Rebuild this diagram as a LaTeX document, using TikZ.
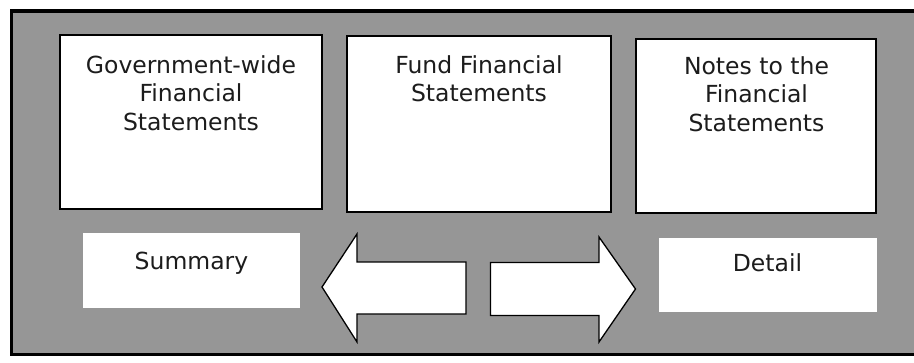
\documentclass[tikz,border=0pt]{standalone}
\usepackage{fontspec}
\setmainfont{DejaVu Sans}
\usetikzlibrary{calc}
\definecolor{panelgray}{RGB}{150,150,150}
\definecolor{inkgray}{RGB}{28,28,28}
\begin{document}
\begin{tikzpicture}[x=1pt,y=-1pt,
  statebox/.style={draw=black, line width=2pt, fill=white, inner sep=0pt},
  tagbox/.style={fill=white, inner sep=0pt},
  captxt/.style={font=\fontsize{23.5}{28.5}\selectfont, text=inkgray, align=center, inner sep=0pt},
  blockarrow/.style={draw=black, line width=1.3pt, fill=white, line join=miter}]

% canvas
\useasboundingbox (0,0) rectangle (914,362);
\fill[white] (0,0) rectangle (914,362);

% grey panel with heavy frame (right side runs off the page)
\begin{scope}
  \clip (0,0) rectangle (914,362);
  \draw[line width=3.5pt, fill=panelgray] (11.5,11) rectangle (922,354.5);
\end{scope}

% the three statement boxes
\node[statebox, minimum width=262pt, minimum height=174pt] (gov)   at (191,122) {};
\node[statebox, minimum width=264pt, minimum height=176pt] (fund)  at (479,124) {};
\node[statebox, minimum width=240pt, minimum height=174pt] (notes) at (756,126) {};

\node[captxt, anchor=north] (govtxt)   at (191,55)   {Government-wide\\Financial\\Statements};
\node[captxt, anchor=north] (fundtxt)  at (479,55)   {Fund Financial\\Statements};
\node[captxt, anchor=north] (notestxt) at (756.5,56) {Notes to the\\Financial\\Statements};

% summary / detail tags
\node[tagbox, minimum width=217pt, minimum height=75pt] (summary) at (191.5,270.5) {};
\node[tagbox, minimum width=218pt, minimum height=74pt] (detail)  at (768,275) {};
\node[captxt, anchor=base] (sumtxt) at (191.5,269)   {Summary};
\node[captxt, anchor=base] (dettxt) at (767.5,271.5) {Detail};

% block arrows between the tags
\coordinate (ltip) at (322,287);
\coordinate (rtip) at (635.5,289);
\draw[blockarrow] (ltip) -- (357,234) -- (357,262) -- (466,262)
  -- (466,314) -- (357,314) -- (357,342) -- cycle;
\draw[blockarrow] (490.5,262.5) -- (599,262.5) -- (599,237) -- (rtip)
  -- (599,342) -- (599,315.5) -- (490.5,315.5) -- cycle;
\end{tikzpicture}
\end{document}
